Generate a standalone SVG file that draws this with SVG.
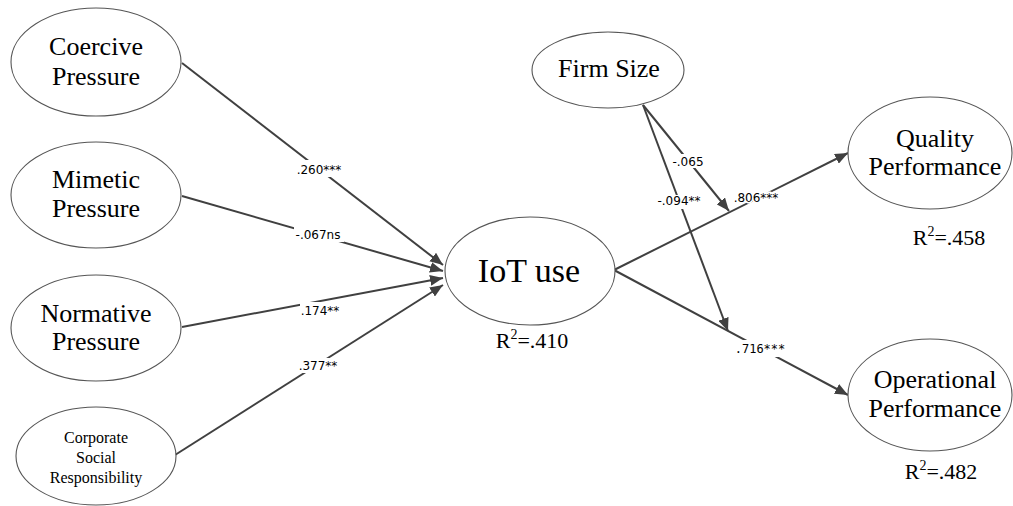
<svg xmlns="http://www.w3.org/2000/svg" width="1013" height="506" viewBox="0 0 1013 506">
<style>
.node ellipse{fill:#fff;stroke:#555;stroke-width:1.1}
.nt{font-family:"Liberation Serif","Times New Roman",serif;font-size:26px;fill:#000;text-anchor:middle}
.r2{font-family:"Liberation Serif","Times New Roman",serif;font-size:22px;fill:#000;text-anchor:middle}
.sup{font-size:14px}
.edge{stroke:#404040;stroke-width:2;fill:none}
.arr{marker-end:url(#ah)}
.lb{font-family:"DejaVu Sans",Verdana,sans-serif;font-size:12px;fill:#000;text-anchor:middle}
.lbm{font-family:"DejaVu Sans Mono",monospace;font-size:12px;fill:#000;text-anchor:middle}
.bg{fill:#fff}
</style>
<defs>
<marker id="ah" viewBox="0 0 12 10" refX="12" refY="5" markerWidth="13" markerHeight="11" markerUnits="userSpaceOnUse" orient="auto">
<path d="M0,0 L12,5 L0,10 Z" fill="#404040"/>
</marker>
</defs>
<rect width="1013" height="506" fill="#fff"/>
<g id="connectors">
<line class="edge arr" x1="182" y1="63" x2="443" y2="265"/>
<line class="edge arr" x1="182" y1="196" x2="443" y2="271"/>
<line class="edge arr" x1="182" y1="327" x2="443" y2="278"/>
<line class="edge arr" x1="175" y1="455" x2="443" y2="285"/>
<line class="edge arr" x1="614" y1="270" x2="848" y2="153"/>
<line class="edge arr" x1="614" y1="270" x2="848" y2="395"/>
<line class="edge arr" x1="643" y1="105" x2="729" y2="211"/>
<line class="edge arr" x1="643" y1="105" x2="728" y2="331"/>
<rect class="bg" x="294" y="160" width="50" height="17"/>
<text class="lb" x="319" y="174">.260***</text>
<rect class="bg" x="294" y="227" width="50" height="15"/>
<text class="lb" x="318" y="239">-.067ns</text>
<rect class="bg" x="300" y="302" width="41" height="15"/>
<text class="lb" x="320" y="315">.174**</text>
<rect class="bg" x="296" y="358" width="44" height="15"/>
<text class="lb" x="318" y="370">.377**</text>
<rect class="bg" x="670" y="154" width="36" height="14"/>
<text class="lb" x="688" y="166">-.065</text>
<rect class="bg" x="653" y="195" width="52" height="14"/>
<text class="lb" x="679" y="205">-.094**</text>
<text class="lb" x="756" y="202" stroke="#fff" stroke-width="3" paint-order="stroke">.806***</text>
<rect class="bg" x="735" y="340" width="50" height="17"/>
<text class="lbm" x="760" y="353">.716***</text>
</g>
<g id="coercive" class="node">
<ellipse cx="96" cy="62" rx="85" ry="54"/>
<text class="nt" x="96" y="55">Coercive</text>
<text class="nt" x="96" y="85">Pressure</text>
</g>
<g id="mimetic" class="node">
<ellipse cx="96" cy="195" rx="85" ry="53"/>
<text class="nt" x="96" y="188">Mimetic</text>
<text class="nt" x="96" y="217">Pressure</text>
</g>
<g id="normative" class="node">
<ellipse cx="96" cy="328" rx="85" ry="53"/>
<text class="nt" x="96" y="322">Normative</text>
<text class="nt" x="96" y="350">Pressure</text>
</g>
<g id="csr" class="node">
<ellipse cx="96" cy="456" rx="80" ry="49"/>
<text class="nt" style="font-size:16px" x="96" y="443">Corporate</text>
<text class="nt" style="font-size:16px" x="96" y="463">Social</text>
<text class="nt" style="font-size:16px" x="96" y="483">Responsibility</text>
</g>
<g id="iot" class="node">
<ellipse cx="530" cy="271" rx="85" ry="54"/>
<text class="nt" style="font-size:34px" x="529" y="282">IoT use</text>
<text class="r2" x="532" y="348">R<tspan class="sup" dy="-9">2</tspan><tspan dy="9">=.410</tspan></text>
</g>
<g id="firmsize" class="node">
<ellipse cx="608" cy="70" rx="76" ry="38"/>
<text class="nt" x="609" y="77">Firm Size</text>
</g>
<g id="quality" class="node">
<ellipse cx="930" cy="153" rx="82" ry="56"/>
<text class="nt" x="935" y="147">Quality</text>
<text class="nt" x="935" y="175">Performance</text>
<text class="r2" x="949" y="245">R<tspan class="sup" dy="-9">2</tspan><tspan dy="9">=.458</tspan></text>
</g>
<g id="operational" class="node">
<ellipse cx="930" cy="395" rx="82" ry="56"/>
<text class="nt" x="935" y="388">Operational</text>
<text class="nt" x="935" y="417">Performance</text>
<text class="r2" x="941" y="479">R<tspan class="sup" dy="-9">2</tspan><tspan dy="9">=.482</tspan></text>
</g>
</svg>
